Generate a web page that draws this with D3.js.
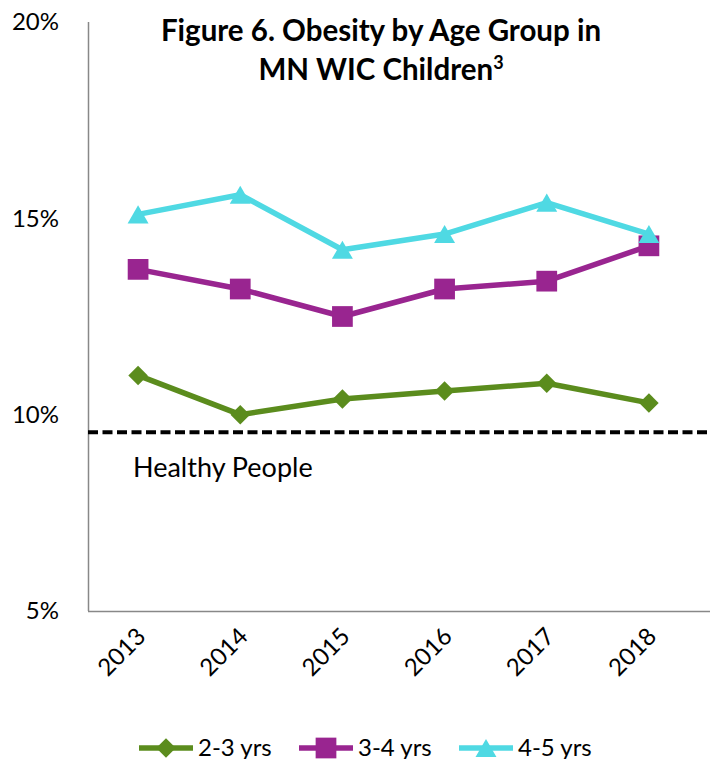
<!DOCTYPE html>
<html><head><meta charset="utf-8">
<script src="https://cdn.jsdelivr.net/npm/d3@7"></script>
<style>body{margin:0;background:#fff;} svg{display:block;font-family:Lato, "Open Sans", sans-serif;}</style>
</head><body>
<script>
const years = ["2013","2014","2015","2016","2017","2018"];
const seriesNames = ["2-3 yrs","3-4 yrs","4-5 yrs"];
const vals23 = [11.0,10.0,10.4,10.6,10.8,10.3];
const vals34 = [13.7,13.2,12.5,13.2,13.4,14.3];
const vals45 = [15.1,15.6,14.2,14.6,15.4,14.6];
const healthyPeople = 9.55;
const yTicks = [5,10,15,20];
const colors = ["#5b8c1d","#992590","#4fd9e3"];

const W=710,H=759;
const svg=d3.select("body").append("svg").attr("width",W).attr("height",H);
const x=d3.scaleBand().domain(years).range([87,700]);
const y=d3.scaleLinear().domain([5,20]).range([611,22]);
const cx=d=>x(d)+x.bandwidth()/2;

// marker generators (bbox-centred like the original)
function marker(k){
  if(k===0) return {d:d3.symbol().type(d3.symbolSquare).size(190)(), rot:45, dy:0};
  if(k===1) return {d:d3.symbol().type(d3.symbolSquare).size(430)(), rot:0, dy:0};
  const s=190; const h=Math.sqrt(s*Math.sqrt(3)); // triangle height approx
  return {d:d3.symbol().type(d3.symbolTriangle).size(s)(), rot:0, dy:h/6};
}

// axes
svg.append("line").attr("x1",88.5).attr("x2",88.5).attr("y1",y(20)).attr("y2",y(5)).attr("stroke","#888").attr("stroke-width",1.5);
svg.append("line").attr("x1",88).attr("x2",W).attr("y1",y(5)+0.5).attr("y2",y(5)+0.5).attr("stroke","#888").attr("stroke-width",1.5);
svg.selectAll(".yt").data(yTicks).enter().append("text")
 .attr("x",59).attr("y",d=>y(d)).attr("dy","0.35em").attr("text-anchor","end")
 .attr("font-size",24).attr("fill","#000").text(d=>d+"%");
svg.selectAll(".xt").data(years).enter().append("text")
 .attr("transform",d=>`translate(${cx(d)+9},${638}) rotate(-45)`)
 .attr("text-anchor","end").attr("font-size",24).attr("fill","#000").text(d=>d);

// healthy people line
svg.append("line").attr("x1",88).attr("x2",W).attr("y1",y(healthyPeople)).attr("y2",y(healthyPeople))
 .attr("stroke","#000").attr("stroke-width",4).attr("stroke-dasharray","10,4.5");
svg.append("text").attr("x",133).attr("y",477).attr("font-size",27).attr("fill","#000").text("Healthy People");

// title
const title=svg.append("text").attr("text-anchor","middle").attr("font-size",29.5).attr("font-weight","bold").attr("fill","#000");
title.append("tspan").attr("x",381).attr("y",41).text("Figure 6. Obesity by Age Group in");
const t2=title.append("tspan").attr("x",381).attr("y",80).text("MN WIC Children");
t2.append("tspan").attr("font-size",18).attr("dy",-11).text("3");

const data=[vals23,vals34,vals45];
const line=d3.line().x((d,i)=>cx(years[i])).y(d=>y(d));
data.forEach((vals,k)=>{
  svg.append("path").datum(vals).attr("d",line).attr("fill","none").attr("stroke",colors[k]).attr("stroke-width",5.5).attr("stroke-linejoin","round");
});
data.forEach((vals,k)=>{
  const m=marker(k);
  svg.selectAll(".m"+k).data(vals).enter().append("path")
   .attr("d",m.d)
   .attr("transform",(d,i)=>`translate(${cx(years[i])},${y(d)+m.dy}) rotate(${m.rot})`)
   .attr("fill",colors[k]);
});

// legend
const legX=[139,299,459];
seriesNames.forEach((n,k)=>{
  const g=svg.append("g").attr("transform",`translate(${legX[k]},748)`);
  g.append("line").attr("x1",0).attr("x2",54).attr("stroke",colors[k]).attr("stroke-width",5.5);
  const m=marker(k);
  g.append("path").attr("d",m.d).attr("transform",`translate(27,${m.dy}) rotate(${m.rot})`).attr("fill",colors[k]);
  g.append("text").attr("x",59).attr("y",0).attr("dy","0.35em").attr("font-size",24).attr("fill","#000").text(n);
});
</script>
</body></html>
